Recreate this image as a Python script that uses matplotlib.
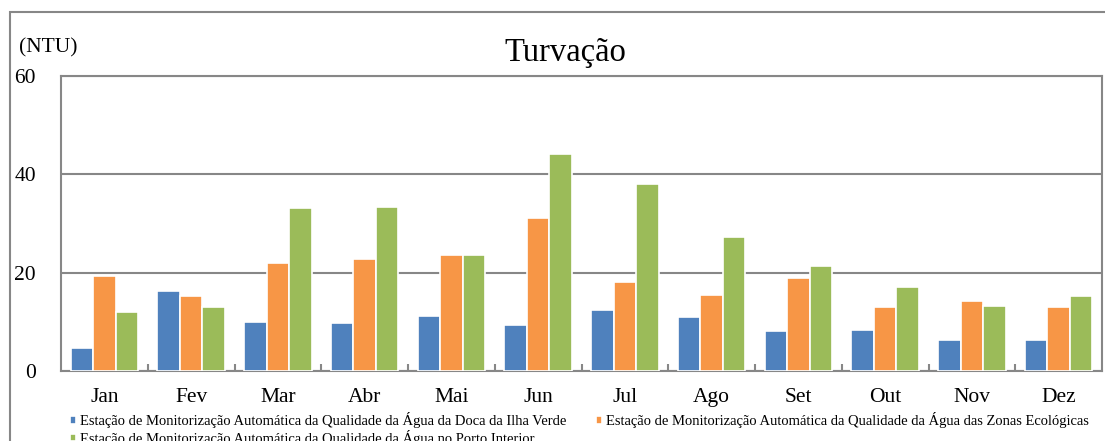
import matplotlib.pyplot as plt
from matplotlib.patches import Rectangle
from matplotlib.ticker import MultipleLocator, FixedLocator
import numpy as np

plt.rcParams['font.family'] = ['Liberation Serif', 'DejaVu Serif']

meses = ['Jan', 'Fev', 'Mar', 'Abr', 'Mai', 'Jun', 'Jul', 'Ago', 'Set', 'Out', 'Nov', 'Dez']

# valores (NTU)
ilha_verde = [4.6, 16.3, 9.9, 9.7, 11.1, 9.4, 12.4, 11.0, 8.2, 8.4, 6.3, 6.3]
zonas_ecologicas = [19.4, 15.2, 22.0, 22.8, 23.6, 31.1, 18.1, 15.4, 19.0, 13.1, 14.3, 13.1]
porto_interior = [12.0, 13.1, 33.1, 33.4, 23.5, 44.2, 38.0, 27.3, 21.4, 17.1, 13.2, 15.3]

nomes = ['Estação de Monitorização Automática da Qualidade da Água da Doca da Ilha Verde',
         'Estação de Monitorização Automática da Qualidade da Água das Zonas Ecológicas',
         'Estação de Monitorização Automática da Qualidade da Água no Porto Interior']
cores = ['#4F81BD', '#F79646', '#9BBB59']

W, H = 1105, 441
fig = plt.figure(figsize=(W / 100, H / 100), dpi=100)
ax = fig.add_axes([61 / W, 70 / H, (1102 - 61) / W, (371 - 76) / H])

# moldura exterior
fig.patches.append(Rectangle((10 / W, -0.1), 1.2, 1 - 12 / H + 0.1, transform=fig.transFigure,
                             fill=False, edgecolor='#878787', linewidth=1.5))

x = np.arange(len(meses))
w = 0.26
series = [ilha_verde, zonas_ecologicas, porto_interior]
barras = []
for i, (s, c) in enumerate(zip(series, cores)):
    b = ax.bar(x + (i - 1) * w, s, w, color=c, edgecolor='white', linewidth=1.2, zorder=3)
    barras.append(b)

ax.set_xlim(-0.5, len(meses) - 0.5)
ax.set_ylim(0, 60)
ax.yaxis.set_major_locator(MultipleLocator(20))
ax.grid(axis='y', color='#878787', linewidth=1.5, zorder=0)
for sp in ax.spines.values():
    sp.set_color('#878787')
    sp.set_linewidth(1.5)

ax.set_xticks(x)
ax.set_xticklabels(meses, fontsize=15.5)
ax.xaxis.set_minor_locator(FixedLocator(np.arange(0.5, len(meses) - 1, 1)))
ax.tick_params(axis='x', which='major', length=0, pad=12)
ax.tick_params(axis='x', which='minor', direction='in', length=5, color='#878787', width=1.5)
ax.tick_params(axis='y', length=0, pad=18, labelsize=15.5)

fig.text(565 / W, 1 - 53 / H, 'Turvação', fontsize=23.5, ha='center', va='center')
fig.text(19 / W, 1 - 48 / H, '(NTU)', fontsize=15.5, ha='left', va='center')

# ordem das entradas: linha 1 = estações 1 e 2, linha 2 = estação 3
ordem = [0, 2, 1]
fig.legend([barras[k] for k in ordem], [nomes[k] for k in ordem], loc='upper left',
           bbox_to_anchor=(63 / W, 1 - 405 / H), ncol=2,
           frameon=False, fontsize=10.5, handlelength=0.4, handleheight=0.4,
           handletextpad=0.3, columnspacing=2.0, labelspacing=0.1, borderpad=0)

fig.savefig('out.png', dpi=100)
